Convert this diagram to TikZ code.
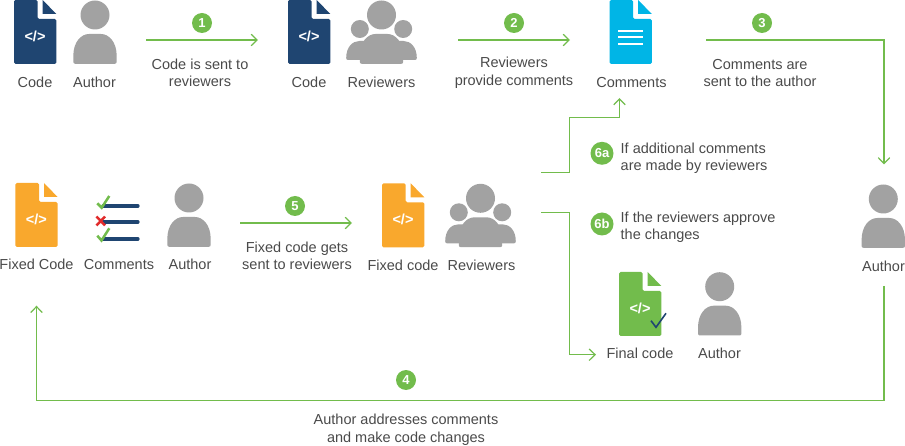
\documentclass[tikz,border=0pt]{standalone}
\usepackage{fontspec}
\setmainfont{Liberation Sans}
\usepackage{xcolor}
\usetikzlibrary{arrows.meta, positioning, calc}
\definecolor{navyblue}{HTML}{1F4571}
\definecolor{leafgreen}{HTML}{72BC4C}
\definecolor{softgrey}{HTML}{A2A2A2}
\definecolor{skycyan}{HTML}{00B5E6}
\definecolor{amber}{HTML}{F9A82D}
\definecolor{inkgrey}{HTML}{4A4A4A}
\definecolor{alertred}{HTML}{E12B2B}

\begin{document}
\begin{tikzpicture}[
    x=1pt, y=-1pt,
    label/.style={inner sep=0pt, align=center, text=inkgrey, font=\fontsize{14.5}{17.5}\selectfont},
    note/.style={label, align=left, anchor=west},
    badge/.style={circle, fill=leafgreen, inner sep=0pt, minimum size=20pt, text=white, font=\fontsize{13}{13}\selectfont\bfseries},
    bigbadge/.style={badge, minimum size=23pt},
    arrow/.style={-{Straight Barb[length=6pt,width=11.5pt]}, draw=leafgreen, line width=1.2pt},
    pics/docshape/.style={code={
        \fill[#1, rounded corners=1.5pt] (0,0) -- (23.7,0) -- (23.7,19) -- (42.3,19) -- (42.3,64) -- (0,64) -- cycle;
        \fill[#1] (28.7,0) -- (42.3,14) -- (28.7,14) -- cycle;
    }},
    pics/codedoc/.style={code={
        \pic {docshape=#1};
        \node[inner sep=0pt, text=white, font=\fontsize{14.5}{14.5}\selectfont\bfseries] (-tag) at (21,36.5) {</>};
    }},
    pics/personbody/.style={code={
        \fill[softgrey] (-21.7,47) -- (-21.7,41) .. controls (-21.7,27) and (-14,19) .. (-6,19) -- (6,19) .. controls (14,19) and (21.7,27) .. (21.7,41) -- (21.7,47) .. controls (21.7,48.3) and (20.7,48.8) .. (19.7,48.8) -- (-19.7,48.8) .. controls (-20.7,48.8) and (-21.7,48.3) .. (-21.7,47) -- cycle;
    }},
    pics/author/.style={code={
        \fill[softgrey] (0,0) circle (14.5);
        \pic {personbody};
    }},
    pics/reviewers/.style={code={
        \fill[softgrey] (0,0) circle (14.5);
        \fill[softgrey] (-21.7,14) circle (9);
        \fill[softgrey] (21.7,14) circle (9);
        \fill[softgrey] (-35.3,43) .. controls (-35.3,32) and (-29,26) .. (-22,26) -- (22,26) .. controls (29,26) and (35.3,32) .. (35.3,43) .. controls (35.3,44.5) and (34.5,45) .. (33.5,45) -- (-33.5,45) .. controls (-34.5,45) and (-35.3,44.5) .. (-35.3,43) -- cycle;
        \pic {personbody};
    }}
]
\useasboundingbox (0,0) rectangle (905,446);

% top row
\pic (code-a) at (14,0) {codedoc=navyblue};
\pic (author-a) at (95,15) {author};
\node[label] (code-a-text) at (35,82) {Code};
\node[label] (author-a-text) at (94.5,82) {Author};

\pic (code-b) at (288,0) {codedoc=navyblue};
\pic (reviewers-a) at (381.5,15) {reviewers};
\node[label] (code-b-text) at (309,82) {Code};
\node[label] (reviewers-a-text) at (381.5,82) {Reviewers};

\pic (comments-doc) at (609.5,0) {docshape=skycyan};
\foreach \liney in {30.7,37.3,44}
    \draw[white, line width=1.9pt] (618,\liney) -- (643,\liney);
\node[label] (comments-text) at (631.5,82.8) {Comments};

% middle row
\pic (fixed-a) at (15.3,183) {codedoc=amber};
\node[label] (fixed-a-text) at (36.5,264) {Fixed Code};
\foreach \liney in {206,222,239}
    \draw[navyblue, line width=3.2pt, line cap=round] (103,\liney) -- (138,\liney);
\draw[leafgreen, line width=2.5pt] (97.3,203.3) -- (101.7,207.7) -- (109.3,196);
\draw[alertred, line width=2.5pt] (96.5,216.5) -- (105,225.5) (105,216.5) -- (96.5,225.5);
\draw[leafgreen, line width=2.5pt] (97.3,235.7) -- (101.5,240.5) -- (109.3,228.3);
\node[label] (comments-b-text) at (119,264.8) {Comments};
\pic (author-b) at (189,198) {author};
\node[label] (author-b-text) at (190,264) {Author};

\pic (fixed-b) at (382,183.3) {codedoc=amber};
\pic (reviewers-b) at (480.5,198.3) {reviewers};
\node[label] (fixed-b-text) at (403,265) {Fixed code};
\node[label] (reviewers-b-text) at (481.5,265) {Reviewers};

\pic (author-c) at (883.3,199) {author};
\node[label] (author-c-text) at (883.5,266) {Author};

% approved result
\pic (final-doc) at (619,272) {codedoc=leafgreen};
\draw[navyblue, line width=1.6pt] (651,320.7) -- (656,327.3) -- (666,313.3);
\node[label] (final-text) at (640,353) {Final code};
\pic (author-d) at (719.7,286.7) {author};
\node[label] (author-d-text) at (719.5,353) {Author};

% step badges and captions
\node[badge] (step-1) at (202,23) {1};
\node[label] (step-1-text) at (200,73) {Code is sent to\\reviewers};
\node[badge] (step-2) at (514,23) {2};
\node[label] (step-2-text) at (514,73) {Reviewers\\provide comments};
\node[badge] (step-3) at (762,23) {3};
\node[label] (step-3-text) at (760,73) {Comments are\\sent to the author};
\node[badge] (step-4) at (406,380) {4};
\node[label] (step-4-text) at (406,430) {Author addresses comments\\and make code changes};
\node[badge] (step-5) at (295,206) {5};
\node[label] (step-5-text) at (297,256) {Fixed code gets\\sent to reviewers};
\node[bigbadge] (step-6a) at (602,153.3) {6a};
\node[note] (step-6a-text) at (620.5,158.5) {If additional comments\\are made by reviewers};
\node[bigbadge] (step-6b) at (602,224) {6b};
\node[note] (step-6b-text) at (620.5,227.5) {If the reviewers approve\\the changes};

% connector ends
\coordinate (one-in) at (146,40);
\coordinate (one-out) at (258,40);
\coordinate (two-in) at (458,40);
\coordinate (two-out) at (570,40);
\coordinate (three-in) at (706,40);
\coordinate (three-out) at (884,164.5);
\coordinate (four-in) at (884,286);
\coordinate (four-out) at (36.5,305.7);
\coordinate (five-in) at (240,223);
\coordinate (five-out) at (352,223);
\coordinate (six-a-in) at (541,172.7);
\coordinate (six-a-out) at (619.5,98);
\coordinate (six-b-in) at (541,212.7);
\coordinate (six-b-out) at (596,354.7);

\draw[arrow] (one-in) -- (one-out);
\draw[arrow] (two-in) -- (two-out);
\draw[arrow] (three-in) -| (three-out);
\draw[arrow] (four-in) -- ++(0,114.7) -| (four-out);
\draw[arrow] (five-in) -- (five-out);
\draw[arrow] (six-a-in) -- ++(28.7,0) |- (619.5,117.3) -- (six-a-out);
\draw[arrow] (six-b-in) -- ++(28.7,0) |- (six-b-out);

\end{tikzpicture}
\end{document}
